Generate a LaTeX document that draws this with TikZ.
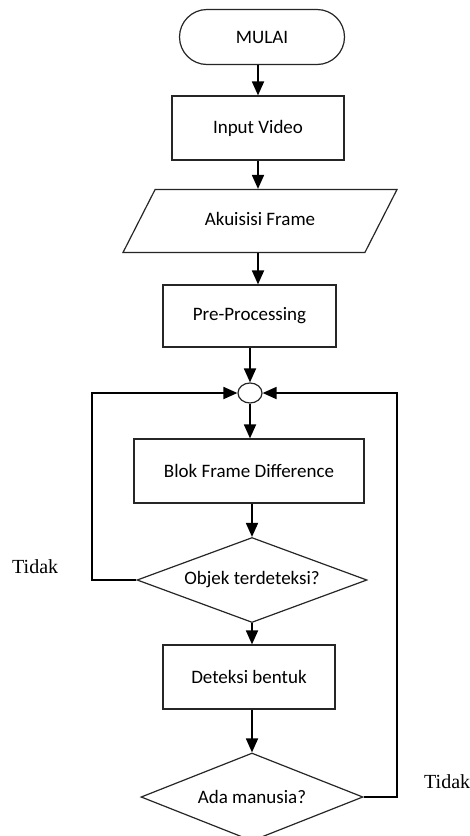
\documentclass[tikz,border=0pt]{standalone}
\usepackage{fontspec}
\setmainfont{Carlito}
\newfontfamily\serifteks{Liberation Serif}
\usetikzlibrary{shapes.geometric,shapes.misc,arrows.meta}
\tikzset{
  kotak/.style={rectangle,draw=black!85,line width=1.2pt,inner sep=0pt,font=\fontsize{19}{21}\selectfont},
  terminal/.style={kotak,rounded rectangle},
  data/.style={kotak,trapezium,trapezium left angle=63,trapezium right angle=117,trapezium stretches body,
    text height=13pt,text depth=4pt,inner ysep=23pt},
  keputusan/.style={kotak,diamond},
  panah/.style={line width=1.8pt,-{Triangle[width=12pt,length=14pt]}},
  label/.style={font=\serifteks\fontsize{20}{22}\selectfont,anchor=base west,inner sep=0pt}
}
\begin{document}
\begin{tikzpicture}[x=1pt,y=-1pt]
\clip (0,0) rectangle (470,836);
\fill[white] (0,0) rectangle (470,836);
\draw (262,37) node[terminal,minimum width=165pt,minimum height=55pt] (mulai) {MULAI};
\draw (258,128) node[kotak,minimum width=172pt,minimum height=64pt] (input) {Input Video};
\draw (260,221) node[data,minimum width=274pt] (akuisisi) {Akuisisi Frame};
\draw (249.5,316) node[kotak,minimum width=173pt,minimum height=62pt] (pre) {Pre-Processing};
\draw (250,393) node[kotak,ellipse,minimum width=24pt,minimum height=20pt] (titik) {};
\draw (249,471) node[kotak,minimum width=230pt,minimum height=64pt] (blok) {Blok Frame Difference};
\draw (252,580) node[keputusan,aspect=2.7,minimum width=230pt,minimum height=85pt] (objek) {Objek terdeteksi?};
\draw (249,677) node[kotak,minimum width=172pt,minimum height=64pt] (deteksi) {Deteksi bentuk};
\draw (252,797) node[keputusan,aspect=2.5,minimum width=222pt,minimum height=88pt] (ada) {Ada manusia?};
\coordinate (kiri) at (92,393);
\coordinate (kanan) at (397,393);
% alur utama
\draw[panah] (mulai.south -| input) -- (input);
\draw[panah] (input) -- (input |- akuisisi.north);
\draw[panah] (akuisisi.south -| 258,0) -- (pre.north -| 258,0);
\draw[panah] (pre.south -| titik) -- (titik);
\draw[panah] (titik) -- (titik |- blok.north);
\draw[panah] (blok.south -| objek) -- (objek);
\draw[panah] (objek) -- (objek |- deteksi.north);
\draw[panah] (deteksi.south -| ada) -- (ada);
% perulangan
\draw[panah] (objek.west) -| (kiri) -- (titik.west);
\draw[panah] (ada.east) -| (kanan) -- (titik.east);
\node[label] (tidak1) at (12,573) {Tidak};
\node[label] (tidak2) at (424,788) {Tidak};
\end{tikzpicture}
\end{document}
